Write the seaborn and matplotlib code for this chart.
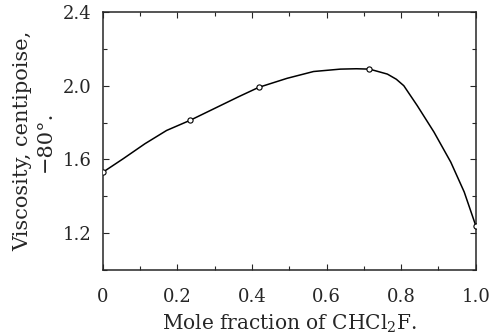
import numpy as np
import pandas as pd
import matplotlib
matplotlib.use("Agg")
import matplotlib.pyplot as plt
import seaborn as sns
from matplotlib.ticker import MultipleLocator, FixedFormatter, FixedLocator

# Measured points (open circles)
point_x = [0.0, 0.234, 0.418, 0.715, 1.0]
point_y = [1.53, 1.812, 1.991, 2.09, 1.236]

# Smooth curve
curve_x = [0.0, 0.055, 0.113, 0.171, 0.234, 0.297, 0.364, 0.418, 0.494,
           0.565, 0.637, 0.68, 0.715, 0.763, 0.787, 0.807, 0.843, 0.888, 0.933, 0.969, 1.0]
curve_y = [1.53, 1.604, 1.685, 1.757, 1.812, 1.874, 1.94, 1.991, 2.04,
           2.077, 2.09, 2.092, 2.09, 2.063, 2.035, 2.0, 1.892, 1.748, 1.585, 1.423, 1.24]

x_ticks = [0, 0.2, 0.4, 0.6, 0.8, 1.0]
x_labels = ["0", "0.2", "0.4", "0.6", "0.8", "1.0"]
y_ticks = [1.2, 1.6, 2.0, 2.4]
y_labels = ["1.2", "1.6", "2.0", "2.4"]

sns.set_style("ticks")
plt.rcParams["font.family"] = ["DejaVu Serif"]
plt.rcParams["mathtext.fontset"] = "dejavuserif"

fig = plt.figure(figsize=(4.92, 3.34), dpi=100)
ax = fig.add_axes([0.209, 0.192, 0.758, 0.772])

curve = pd.DataFrame({"x": curve_x, "y": curve_y})
points = pd.DataFrame({"x": point_x, "y": point_y})

sns.lineplot(data=curve, x="x", y="y", ax=ax, color="black", linewidth=1.1,
             sort=False, estimator=None)
sns.scatterplot(data=points, x="x", y="y", ax=ax, marker="o", s=14,
                facecolor="white", edgecolor="black", linewidth=0.8, zorder=3)

ax.set_xlim(0, 1.0)
ax.set_ylim(1.0, 2.4)
ax.xaxis.set_major_locator(FixedLocator(x_ticks))
ax.xaxis.set_major_formatter(FixedFormatter(x_labels))
ax.xaxis.set_minor_locator(MultipleLocator(0.1))
ax.yaxis.set_major_locator(FixedLocator(y_ticks))
ax.yaxis.set_major_formatter(FixedFormatter(y_labels))
ax.yaxis.set_minor_locator(MultipleLocator(0.2))

ax.tick_params(which="both", direction="in", top=True, right=True,
               labelsize=13, width=0.8)
ax.tick_params(which="major", length=4)
ax.tick_params(which="minor", length=3)
ax.tick_params(axis="x", which="major", pad=13)
ax.tick_params(axis="y", which="major", pad=8)
for s in ax.spines.values():
    s.set_linewidth(1.1)

ax.set_xlabel("Mole fraction of CHCl$_2$F.", fontsize=14.5, labelpad=5)
ax.set_ylabel("Viscosity, centipoise,\n\u221280\u00b0.", fontsize=15,
              linespacing=1.25, labelpad=6)

fig.savefig("out.png", dpi=100)
